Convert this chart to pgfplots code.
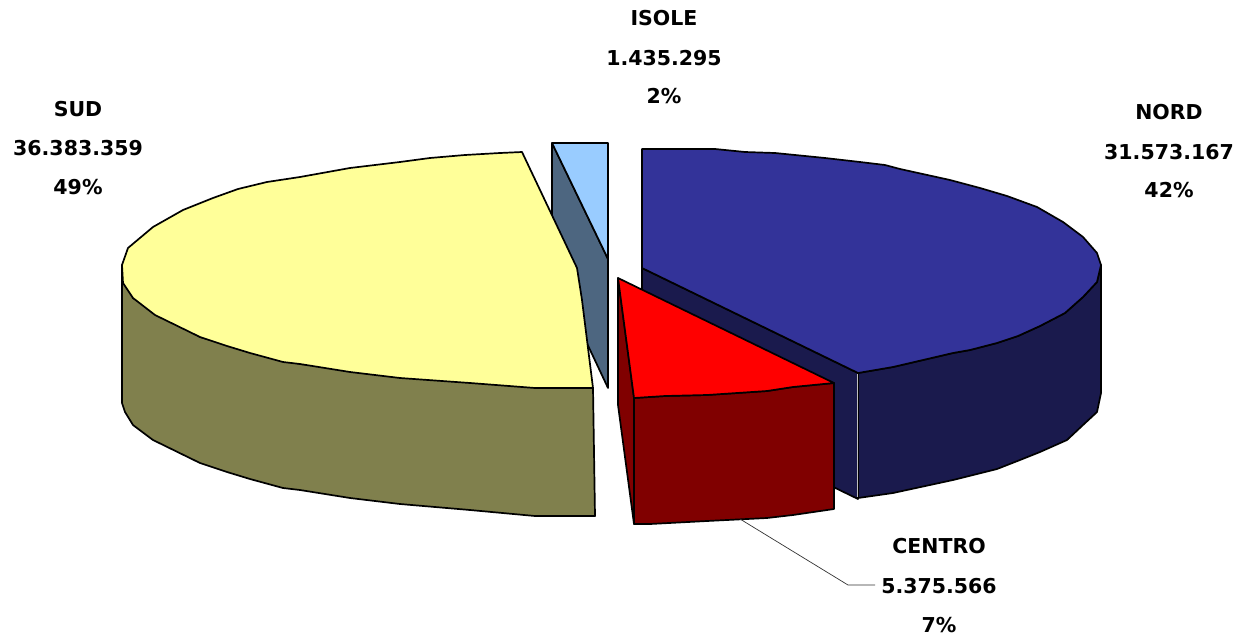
\documentclass[border=0pt]{standalone}
\usepackage{pgfplots}
\pgfplotsset{compat=1.18}
\usepackage{fontspec}
\setmainfont{DejaVu Sans}
\definecolor{nordT}{HTML}{333399}
\definecolor{nordD}{HTML}{1A1A4D}
\definecolor{sudT}{HTML}{FFFF99}
\definecolor{sudD}{HTML}{80804D}
\definecolor{isoT}{HTML}{99CCFF}
\definecolor{isoD}{HTML}{4D6680}
\definecolor{cenT}{HTML}{FF0000}
\definecolor{cenD}{HTML}{800000}
\newcommand{\lab}[3]{\node[align=center,inner sep=0pt,font=\fontsize{20.5}{20.5}\selectfont\bfseries] at (axis cs:#1,#2) {#3};}
\begin{document}
\begin{tikzpicture}
\begin{axis}[
  scale only axis, width=1249pt, height=642pt,
  xmin=0, xmax=1249, ymin=0, ymax=642, y dir=reverse,
  hide axis, clip=false,
  every axis plot/.append style={draw=black, line width=1.7pt, line join=round, mark=none}
]
% page corners, so that the picture has the full size
\addplot[draw=none, line width=0pt] coordinates {(0,0)(1249,642)};
% ISOLE side and top
\addplot[fill=isoD] coordinates {(552,143)(608,259)(608,388)(552,269)} -- cycle;
\addplot[fill=isoT] coordinates {(552,143)(608,143)(608,259)} -- cycle;
% SUD side
\addplot[fill=sudD] coordinates {(122,265)(122,403)(125,412)(133,425)(153,440)(200,463)(227,472)(250,479)(283,488)(300,490)(350,498)(400,504)(470,510)(535,516)(595,516)(593,388)(300,364)(200,337)(133,298)} -- cycle;
% SUD top
\addplot[fill=sudT] coordinates {(522,152)(500,153)(465,155)(430,158)(400,162)(350,168)(300,177)(267,182)(238,189)(213,198)(183,210)(153,227)(128,248)(122,265)(123,283)(133,298)(155,315)(200,337)(227,346)(250,353)(283,362)(300,364)(350,372)(400,378)(470,383)(535,388)(593,388)(582,300)(577,268)} -- cycle;
% NORD inner side
\addplot[fill=nordD] coordinates {(642,268)(858,373)(858,499)(642,394)} -- cycle;
% NORD outer side
\addplot[fill=nordD] coordinates {(858,373)(858,498)(893,493)(953,480)(997,469)(1020,460)(1040,452)(1067,440)(1083,425)(1097,412)(1101,393)(1101,265)(1097,282)(1083,297)(1065,313)(1040,326)(1018,336)(997,343)(970,350)(953,353)(893,367)} -- cycle;
% NORD top
\addplot[fill=nordT] coordinates {(642,149)(715,149)(745,152)(775,153)(805,156)(825,158)(860,162)(885,165)(900,169)(950,180)(980,188)(1007,196)(1037,207)(1063,222)(1083,237)(1097,253)(1101,265)(1097,282)(1083,297)(1065,313)(1040,326)(1018,336)(997,343)(970,350)(953,353)(893,367)(858,373)(642,268)} -- cycle;
\addplot[draw=lightgray, line width=0.8pt] coordinates {(857,374)(857,497)};
% CENTRO
\addplot[fill=cenD] coordinates {(618,278)(618,405)(634,524)(634,398)} -- cycle;
\addplot[fill=cenD] coordinates {(634,398)(634,524)(650,524)(707,521)(767,518)(793,515)(834,509)(834,383)(793,387)(767,391)(707,395)(665,396)} -- cycle;
\addplot[fill=cenT] coordinates {(618,278)(834,383)(793,387)(767,391)(707,395)(665,396)(634,398)} -- cycle;
% leader
\addplot[draw=black!80, line width=0.7pt] coordinates {(740,519)(848,585)(875,585)};
\lab{664}{18}{ISOLE}
\lab{664}{58}{1.435.295}
\lab{664}{96}{2\%}
\lab{78}{109}{SUD}
\lab{78}{148}{36.383.359}
\lab{78}{187}{49\%}
\lab{1169}{112}{NORD}
\lab{1169}{152}{31.573.167}
\lab{1169}{190}{42\%}
\lab{939}{546}{CENTRO}
\lab{939}{586}{5.375.566}
\lab{939}{625}{7\%}
\end{axis}
\end{tikzpicture}
\end{document}
